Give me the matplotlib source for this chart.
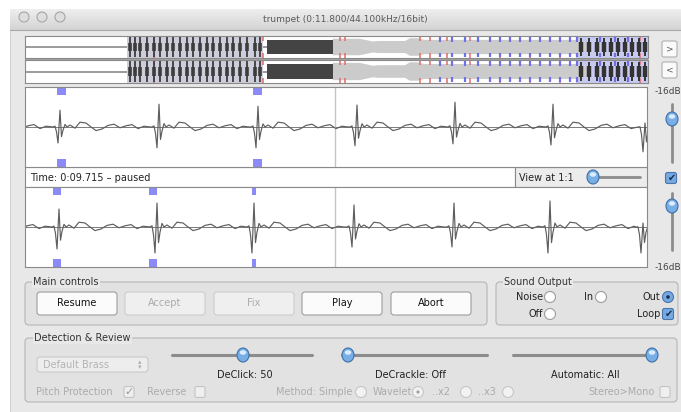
import numpy as np
import matplotlib
matplotlib.use("Agg")
import matplotlib.pyplot as plt
from matplotlib.patches import FancyBboxPatch, Rectangle, Circle, Ellipse
from matplotlib.colors import LinearSegmentedColormap

# ---- values ----
title = "trumpet (0:11.800/44.100kHz/16bit)"
time_label = "Time: 0:09.715 \u2013 paused"

# main view, x in samples (about 2 per pixel), amplitude -1..1
view_len = 1244
playhead = 620
top_spikes = [70, 268, 466, 664, 860, 1056, 1240]
top_up = [0.42, 0.57, 0.52, 0.55, 0.62, 0.57, 0.10]
top_down = [0.40, 0.52, 0.52, 0.47, 0.42, 0.45, 0.62]
bot_spikes = [68, 264, 458, 658, 858, 1050, 1236]
bot_up = [0.45, 0.60, 0.60, 0.55, 0.60, 0.65, 0.10]
bot_down = [0.55, 0.65, 0.65, 0.50, 0.50, 0.65, 0.65]
pulse_off = [-14, -10, -7, -4, 0, 3, 6, 10, 14]
pulse_up = [0, 0.05, 0, 0, 1.0, 0, 0, 0.15, 0]
pulse_down = [0, 0, -0.3, -1.0, 0, -0.6, -0.2, 0, 0]
ripple_off = [20, 30, 40, 52, 60, 72, 84, 96, 108, 120, 132, 144, 156, 168, 180]
ripple_val = [0.05, -0.03, 0.12, 0.10, 0.02, -0.09, -0.05, 0.04, 0.07, -0.02, 0.03, 0.06, -0.04, 0.02, 0.0]
top_marks = [72, 465]
top_mark_w = [18, 18]
bot_marks = [64, 256, 458]
bot_mark_w = [16, 16, 8]

# overview, x in seconds
total_sec = 11.8
burst_t = [1.99, 2.08, 2.18, 2.31, 2.44, 2.56, 2.69, 2.80, 2.94, 3.07, 3.18,
           3.31, 3.45, 3.56, 3.69, 3.83, 3.94, 4.07, 4.20, 4.36, 4.45]
tail_t = [10.53, 10.68, 10.83, 10.97, 11.10, 11.23, 11.36, 11.50, 11.63, 11.74]
block_t = [4.58, 5.83]
env_t = [5.83, 6.34, 6.59, 6.69, 7.20, 7.29, 7.44, 7.56, 10.51, 10.70]
env_v = [0.75, 0.75, 0.50, 0.55, 0.55, 0.80, 0.80, 0.65, 0.65, 0.20]
red_t = [2.44, 4.51, 5.97, 6.06, 7.48, 7.67, 7.99, 8.43, 9.00, 9.57, 10.13, 11.65]
blue_t = [7.86, 8.09, 8.33, 8.58, 8.81, 9.00, 9.19, 9.38, 9.57, 9.76, 9.94,
          10.13, 10.32, 10.46, 10.89, 11.17, 11.42]

buttons = ["Resume", "Accept", "Fix", "Play", "Abort"]
button_on = [True, False, False, True, True]
button_x = [37, 125, 214, 302, 391]
slider_labels = ["DeClick: 50", "DeCrackle: Off", "Automatic: All"]
slider_track = [(172, 312), (342, 487), (513, 655)]
slider_knob = [243, 348, 652]
slider_label_x = [245, 410, 585]

W, H = 681, 412
BG = "#e8e8e8"
GROUP = "#e2e2e2"
DIS = "#ababab"
FS = 7

fig = plt.figure(figsize=(W / 100, H / 100), dpi=100)
ax = fig.add_axes([0, 0, 1, 1])
ax.axis("off")


def box_axes(x0, y0, x1, y1):
    a = fig.add_axes([x0 / W, 1 - y1 / H, (x1 - x0) / W, (y1 - y0) / H])
    a.set_xticks([])
    a.set_yticks([])
    for s in a.spines.values():
        s.set_color("#8a8a8a")
        s.set_linewidth(0.8)
    return a


def rbox(x0, y0, x1, y1, fc, ec, r=3, lw=0.8, z=1):
    ax.add_patch(FancyBboxPatch((x0, y0), x1 - x0, y1 - y0,
                                boxstyle="round,pad=0,rounding_size=%g" % r,
                                fc=fc, ec=ec, lw=lw, zorder=z))


def knob(x, y):
    ax.add_patch(Ellipse((x, y), 12, 14, fc="#78aee6", ec="#3f6fa6", lw=0.8, zorder=6))
    ax.add_patch(Ellipse((x, y - 2.5), 6.5, 4.5, fc="#dcecff", ec="none", zorder=7))


def checkbox(x, y, on=True, enabled=True):
    if enabled:
        rbox(x - 5.5, y - 5.5, x + 5.5, y + 5.5, "#74a9e4" if on else "white", "#4a76aa", r=2, z=5)
        if on:
            ax.text(x + 0.5, y, "\u2714", fontsize=7, color="#1d2f4a", ha="center", va="center", zorder=6)
    else:
        rbox(x - 5, y - 5.5, x + 5, y + 5.5, "#efefef", "#c4c4c4", r=2, z=5)
        if on:
            ax.text(x, y, "\u2713", fontsize=8, color="#9a9a9a", ha="center", va="center", zorder=6)


def radio(x, y, state=0, enabled=True):
    if enabled and state:
        ax.add_patch(Circle((x, y), 5.5, fc="#74a9e4", ec="#4a76aa", lw=0.8, zorder=5))
        ax.add_patch(Circle((x, y), 1.8, fc="#1d2f4a", ec="none", zorder=6))
    else:
        ax.add_patch(Circle((x, y), 5.5, fc="white" if enabled else "#f2f2f2",
                            ec="#9c9c9c" if enabled else "#c6c6c6", lw=0.8, zorder=5))
        if state:
            ax.add_patch(Circle((x, y), 1.5, fc="#9a9a9a", ec="none", zorder=6))


# window and title bar
ax.add_patch(Rectangle((0, 0), W, H, fc="white", ec="none", zorder=0))
ax.add_patch(Rectangle((10, 9), W - 10, H - 9, fc=BG, ec="#c8c8c8", lw=0.6, zorder=0))
grad = LinearSegmentedColormap.from_list("tb", ["#eeeeee", "#d4d4d4"])
ax.imshow(np.linspace(0, 1, 40).reshape(-1, 1), cmap=grad, extent=[10, W, 30, 9],
          aspect="auto", zorder=0.5)
ax.plot([10, W], [30, 30], color="#a9a9a9", lw=0.8, zorder=1)
for cx in [24, 42, 60]:
    ax.add_patch(Circle((cx, 17), 5, fc="#dedede", ec="#a6a6a6", lw=0.8, zorder=2))
ax.text(345, 19, title, fontsize=6.5, color="#5a5a5a", ha="center", va="center", zorder=2)
ax.set_xlim(0, W)
ax.set_ylim(H, 0)

# overview: two channels
for (y0, y1) in [(36, 58), (60, 83)]:
    ov = box_axes(25, y0, 648, y1)
    ov.set_xlim(0, total_sec)
    ov.set_ylim(-1, 1)
    ov.axvspan(burst_t[0] - 0.05, burst_t[-1] + 0.05, fc="#cdcddb", ec="none")
    ov.axvspan(tail_t[0] - 0.1, total_sec, fc="#c9caf0", ec="none")
    ov.fill_between(env_t, [-v for v in env_v], env_v, fc="#cbcbcb", ec="none")
    ov.fill_between(block_t, [-0.66, -0.66], [0.66, 0.66], fc="#444444", ec="none")
    ov.vlines(red_t, 0.55, 0.97, color="#e26a6a", lw=1.1)
    ov.vlines(red_t, -0.97, -0.55, color="#e26a6a", lw=1.1)
    ov.vlines(blue_t, 0.5, 0.95, color="#6f6fe8", lw=1.6)
    ov.vlines(blue_t, -0.95, -0.5, color="#6f6fe8", lw=1.6)
    ov.vlines(burst_t, -0.9, 0.9, color="#3c3c3c", lw=1.3)
    ov.vlines(burst_t, -0.35, 0.35, color="#3c3c3c", lw=2.6)
    ov.vlines(tail_t, -0.85, 0.85, color="#333333", lw=1.4)
    ov.vlines(tail_t, -0.45, 0.45, color="#333333", lw=3.2)
    ov.axhline(0, color="#8a8a8a", lw=1.2, zorder=0.5)
ax.add_patch(Rectangle((25, 57.5), 623, 3, fc="#a4a4a4", ec="none", zorder=2))

for yy, s in [(49, ">"), (70, "<")]:
    rbox(662, yy - 8, 677, yy + 8, "#fafafa", "#b0b0b0", r=2)
    ax.text(669.5, yy, s, fontsize=6.5, color="#555555", ha="center", va="center", zorder=3)


# main waveform panels
def wave(xs_spk, ups, dns):
    pts = {}
    for i, s in enumerate(xs_spk):
        for o, u, d in zip(pulse_off, pulse_up, pulse_down):
            pts[s + o] = ups[i] * u + dns[i] * d
        nxt = xs_spk[i + 1] if i + 1 < len(xs_spk) else view_len + 200
        for o, v in zip(ripple_off, ripple_val):
            if s + o < nxt - 16:
                pts[s + o] = v
    for o, v in zip(ripple_off, ripple_val):
        if 0 <= xs_spk[0] - 196 + o < xs_spk[0] - 16:
            pts[xs_spk[0] - 196 + o] = v
    pts[0] = 0.0
    xs = sorted(pts)
    return xs, [pts[k] for k in xs]


for (y0, y1), spk, up, dn, mk, mw in [((87, 167), top_spikes, top_up, top_down, top_marks, top_mark_w),
                                      ((187, 267), bot_spikes, bot_up, bot_down, bot_marks, bot_mark_w)]:
    wa = box_axes(25, y0, 647, y1)
    wa.set_xlim(0, view_len)
    wa.set_ylim(-1, 1)
    wa.axhline(0, color="#7a7a7a", lw=0.7)
    wa.axvline(playhead, color="#c4c4c4", lw=1.0)
    xs, ys = wave(spk, up, dn)
    wa.plot(xs, ys, color="#5e5e5e", lw=0.85)
    wa.bar(mk, 0.19, width=mw, bottom=0.81, color="#8a8af8")
    wa.bar(mk, 0.19, width=mw, bottom=-1.0, color="#8a8af8")

# time bar
ax.add_patch(Rectangle((25, 167), 490, 20, fc="white", ec="#8a8a8a", lw=0.8, zorder=2))
ax.add_patch(Rectangle((515, 167), 132, 20, fc="#ececec", ec="#8a8a8a", lw=0.8, zorder=2))
ax.text(30, 177.5, time_label, fontsize=FS, color="#222222", va="center", zorder=3)
ax.text(519, 177.5, "View at 1:1", fontsize=FS, color="#222222", va="center", zorder=3)
ax.plot([596, 640], [177, 177], color="#8c8c8c", lw=2, solid_capstyle="round", zorder=3)
knob(593, 177)

# right side level sliders
ax.text(655, 91, "-16dB", fontsize=6.5, color="#444444", va="center", zorder=3)
ax.text(655, 267, "-16dB", fontsize=6.5, color="#444444", va="center", zorder=3)
ax.plot([672, 672], [104, 162], color="#8c8c8c", lw=2, solid_capstyle="round", zorder=3)
ax.plot([672, 672], [193, 250], color="#8c8c8c", lw=2, solid_capstyle="round", zorder=3)
knob(672, 119)
knob(672, 206)
checkbox(671, 178)

# main controls group
rbox(25, 282, 487, 325, GROUP, "#b6b6b6", r=4)
ax.text(33, 282, "Main controls", fontsize=FS, color="#333333", va="center", zorder=3,
        bbox=dict(fc=BG, ec="none", pad=1))
for name, on, bx in zip(buttons, button_on, button_x):
    rbox(bx, 292, bx + 80, 315, "#fbfbfb" if on else "#efefef", "#9d9d9d" if on else "#cdcdcd", r=3, z=3)
    ax.text(bx + 40, 303.5, name, fontsize=FS, color="#111111" if on else DIS,
            ha="center", va="center", zorder=4)

# sound output group
rbox(496, 282, 678, 325, GROUP, "#b6b6b6", r=4)
ax.text(504, 282, "Sound Output", fontsize=FS, color="#333333", va="center", zorder=3,
        bbox=dict(fc=BG, ec="none", pad=1))
ax.text(543, 297, "Noise", fontsize=FS, color="#222222", ha="right", va="center", zorder=3)
radio(550, 297)
ax.text(543, 314, "Off", fontsize=FS, color="#222222", ha="right", va="center", zorder=3)
radio(550, 314)
ax.text(593, 297, "In", fontsize=FS, color="#222222", ha="right", va="center", zorder=3)
radio(601, 297)
ax.text(660, 297, "Out", fontsize=FS, color="#222222", ha="right", va="center", zorder=3)
radio(668, 297, state=1)
ax.text(660, 314, "Loop", fontsize=FS, color="#222222", ha="right", va="center", zorder=3)
checkbox(668, 314)

# detection & review group
rbox(25, 338, 677, 402, GROUP, "#b6b6b6", r=4)
ax.text(34, 338, "Detection & Review", fontsize=FS, color="#333333", va="center", zorder=3,
        bbox=dict(fc=BG, ec="none", pad=1))
rbox(37, 357, 148, 372, "#ededed", "#cacaca", r=3, z=3)
ax.text(43, 364.5, "Default Brass", fontsize=FS, color="#b4b4b4", va="center", zorder=4)
ax.text(140, 362, "\u25b4", fontsize=5, color="#b0b0b0", ha="center", va="center", zorder=4)
ax.text(140, 367.5, "\u25be", fontsize=5, color="#b0b0b0", ha="center", va="center", zorder=4)
for (t0, t1), kx, lab, lx in zip(slider_track, slider_knob, slider_labels, slider_label_x):
    ax.plot([t0, t1], [355, 355], color="#8c8c8c", lw=2.2, solid_capstyle="round", zorder=3)
    knob(kx, 355)
    ax.text(lx, 375, lab, fontsize=FS, color="#222222", ha="center", va="center", zorder=3)

row = 392
ax.text(36, row, "Pitch Protection", fontsize=FS, color=DIS, va="center", zorder=3)
checkbox(129, row, on=True, enabled=False)
ax.text(147, row, "Reverse", fontsize=FS, color=DIS, va="center", zorder=3)
checkbox(200, row, on=False, enabled=False)
ax.text(352, row, "Method: Simple", fontsize=FS, color=DIS, ha="right", va="center", zorder=3)
radio(361, row, enabled=False)
ax.text(373, row, "Wavelet", fontsize=FS, color=DIS, va="center", zorder=3)
radio(418, row, state=1, enabled=False)
ax.text(432, row, "..x2", fontsize=FS, color=DIS, va="center", zorder=3)
radio(466, row, enabled=False)
ax.text(478, row, "..x3", fontsize=FS, color=DIS, va="center", zorder=3)
radio(508, row, enabled=False)
ax.text(655, row, "Stereo>Mono", fontsize=FS, color=DIS, ha="right", va="center", zorder=3)
checkbox(665, row, on=False, enabled=False)

fig.savefig("out.png", dpi=100)
